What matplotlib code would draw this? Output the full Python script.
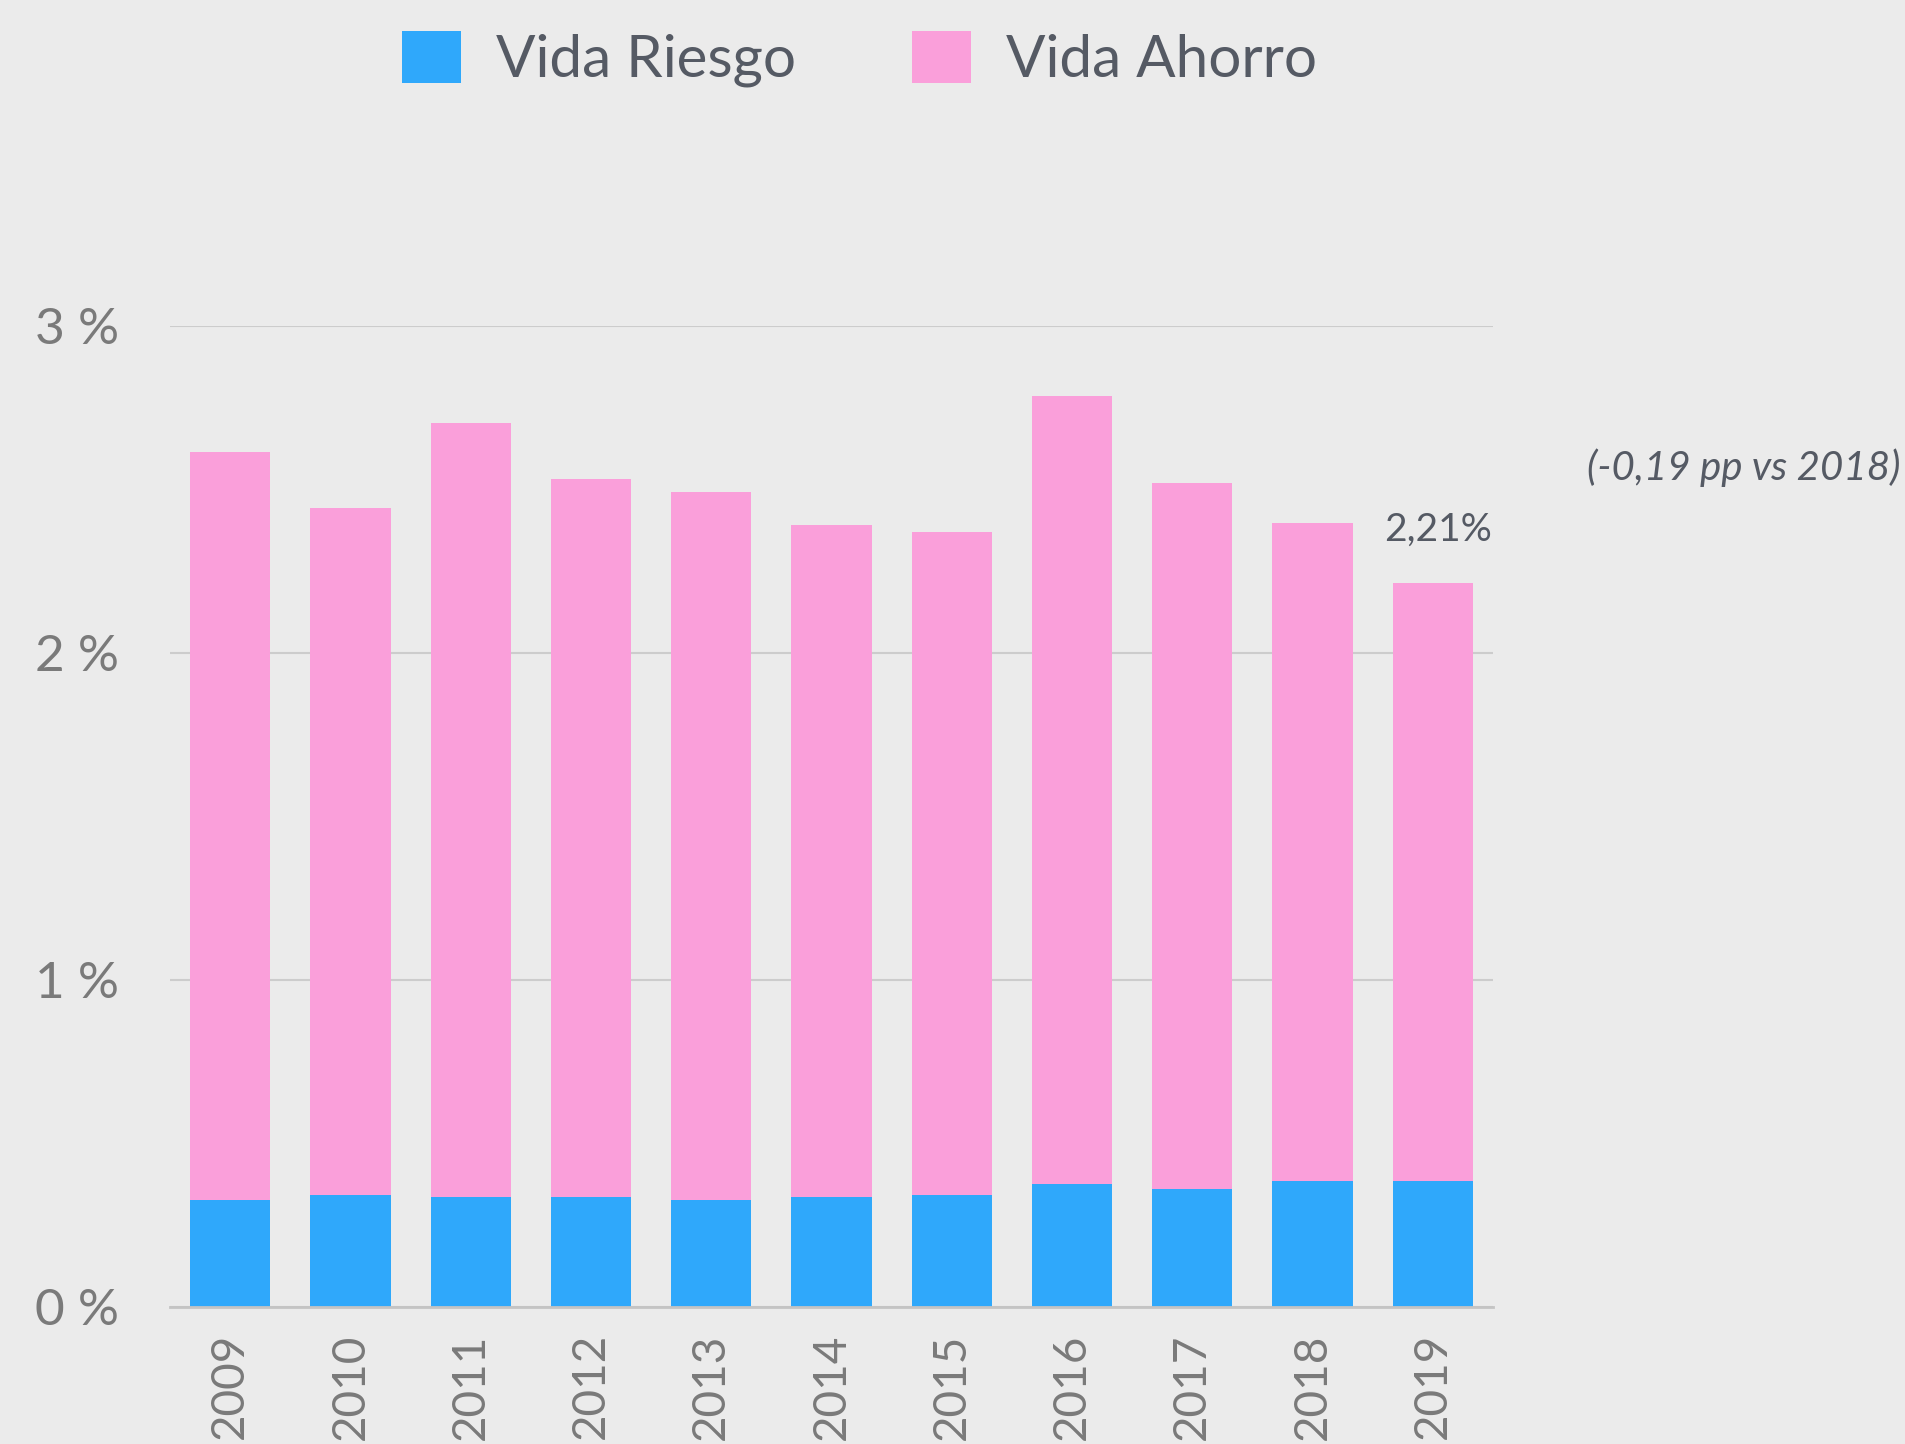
import numpy as np
import matplotlib
matplotlib.use("Agg")
from matplotlib import pyplot as plt

years = ["2009", "2010", "2011", "2012", "2013", "2014", "2015", "2016", "2017", "2018", "2019"]
vida_riesgo = [0.327, 0.343, 0.336, 0.336, 0.327, 0.336, 0.343, 0.376, 0.361, 0.385, 0.385]
vida_total = [2.613, 2.442, 2.703, 2.532, 2.491, 2.390, 2.368, 2.784, 2.520, 2.398, 2.212]
vida_ahorro = [t - r for t, r in zip(vida_total, vida_riesgo)]
y_ticks = [0, 1, 2, 3]
y_labels = ["0 %", "1 %", "2 %", "3 %"]
last_label = "2,21%"
delta_label = "(-0,19 pp vs 2018)"

BG = "#ebebeb"
BLUE = "#2fa8fb"
PINK = "#fa9fda"
TXT = "#555a64"
TICK = "#7a7a7a"

plt.rcParams["font.family"] = ["Lato", "DejaVu Sans"]

fig = plt.figure(figsize=(19.06, 14.44), dpi=100, facecolor=BG)
ax = fig.add_axes([0.0892, 0.095, 0.6941, 0.6794], facecolor=BG)

x = np.arange(len(years))
ax.bar(x, vida_riesgo, width=0.667, color=BLUE, label="Vida Riesgo", zorder=3)
ax.bar(x, vida_ahorro, width=0.667, bottom=vida_riesgo, color=PINK, label="Vida Ahorro", zorder=3)

ax.set_xlim(-0.5, len(years) - 0.5)
ax.set_ylim(0, 3)
ax.set_yticks(y_ticks)
ax.set_yticklabels(y_labels, fontsize=37, color=TICK)
ax.set_xticks(x)
ax.set_xticklabels(years, rotation=90, fontsize=33, color=TICK, va="top")
ax.tick_params(axis="y", length=0, pad=37)
ax.tick_params(axis="x", length=0, pad=19)
ax.grid(axis="y", color="#cccccc", linewidth=1.5, zorder=0)
for s in ["top", "right", "left"]:
    ax.spines[s].set_visible(False)
ax.spines["bottom"].set_color("#c4c4c4")
ax.spines["bottom"].set_linewidth(2)
ax.spines["bottom"].set_zorder(4)

# etiqueta del ultimo ano
ax.annotate(last_label, (x[-1], vida_total[-1]), xytext=(4, 26), textcoords="offset points",
            ha="center", va="bottom", fontsize=28, color=TXT,
            annotation_clip=False)
fig.text(0.997, 0.676, delta_label, ha="right", va="center", fontsize=29,
         color=TXT, style="italic")

fig.legend(loc="center", bbox_to_anchor=(0.451, 0.959), ncol=2, frameon=False,
           handlelength=1.0, handleheight=1.0, handletextpad=0.6,
           columnspacing=2.0, labelcolor=TXT, prop={"size": 42})

fig.savefig("out.png", dpi=100, facecolor=BG)
